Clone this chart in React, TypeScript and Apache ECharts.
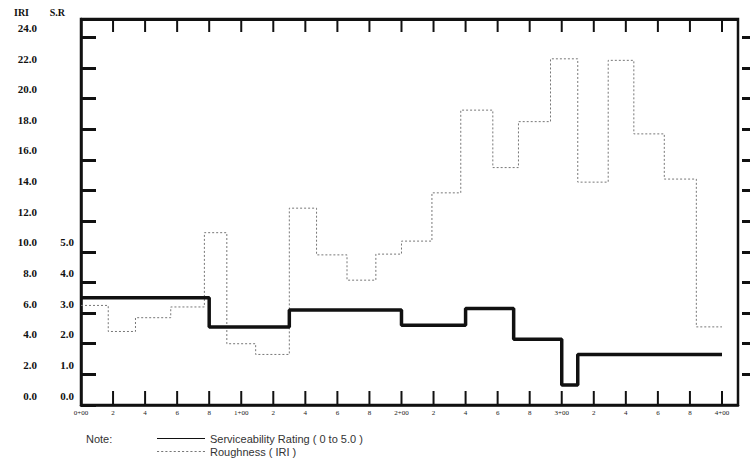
import React, { useEffect, useRef } from "react";
import * as echarts from "echarts";

// Station ticks (0+00 .. 4+00) and their printed labels
const stationTicks = [0, 20, 40, 60, 80, 100, 120, 140, 160, 180, 200, 220, 240, 260, 280, 300, 320, 340, 360, 380, 400];
const stationLabels = ["0+00", "2", "4", "6", "8", "1+00", "2", "4", "6", "8", "2+00", "2", "4", "6", "8", "3+00", "2", "4", "6", "8", "4+00"];

// Left axis ticks
const iriTicks = [0, 2, 4, 6, 8, 10, 12, 14, 16, 18, 20, 22, 24];
const srTicks = [0, 1, 2, 3, 4, 5];
const IRI_TOP = 25.2;

// Serviceability Rating (0 to 5.0): step breakpoints (stations) and values
const srBreaks = [0, 80, 130, 200, 240, 270, 300, 310, 400];
const srValues = [3.5, 2.55, 3.1, 2.6, 3.15, 2.15, 0.65, 1.65];

// Roughness (IRI): step breakpoints (stations) and values
const iriBreaks = [0, 17, 34, 56, 77, 91, 109, 130, 147, 166, 184, 200, 219, 237, 257, 273, 293, 310, 329, 345, 364, 384, 400];
const iriValues = [6.5, 4.8, 5.7, 6.4, 11.25, 4.0, 3.3, 12.85, 9.8, 8.15, 9.85, 10.7, 13.85, 19.25, 15.5, 18.5, 22.6, 14.55, 22.5, 17.7, 14.75, 5.1];

const SR_NAME = "Serviceability Rating ( 0 to 5.0 )";
const IRI_NAME = "Roughness ( IRI )";

// legend icons (shapes only)
const SOLID_ICON = "path://M0 0H48V1H0Z";
const DOTTED_ICON =
  "path://" + Array.from({ length: 12 }, (_, i) => `M${i * 4} 0h2v1h-2z`).join(" ");

function stepData(breaks: number[], values: number[]) {
  const pts = values.map((v, i) => [breaks[i], v]);
  pts.push([breaks[breaks.length - 1], values[values.length - 1]]);
  return pts;
}

const serif = "Liberation Serif";
const sans = "Liberation Sans";

export default function App() {
  const ref = useRef<HTMLDivElement>(null);
  useEffect(() => {
    if (!ref.current) return;
    const chart = echarts.init(ref.current, null, { renderer: "svg" });
    const labelMap: Record<number, string> = {};
    stationTicks.forEach((t, i) => (labelMap[t] = stationLabels[i]));
    chart.setOption({
      animation: false,
      backgroundColor: "#fff",
      title: {
        text: "Note:",
        left: 86,
        top: 433,
        padding: 0,
        textStyle: { fontFamily: sans, fontSize: 11, fontWeight: "normal", color: "#333" },
      },
      legend: {
        data: [
          { name: SR_NAME, icon: SOLID_ICON },
          { name: IRI_NAME, icon: DOTTED_ICON },
        ],
        orient: "vertical",
        left: 157,
        top: 433,
        padding: 0,
        itemWidth: 48,
        itemHeight: 2.5,
        itemGap: 2,
        textStyle: { fontFamily: sans, fontSize: 11, color: "#333" },
      },
      grid: {
        left: 81,
        top: 19,
        right: 15,
        bottom: 67,
        containLabel: false,
        show: true,
        borderColor: "#111",
        borderWidth: 2.5,
        backgroundColor: "transparent",
      },
      xAxis: [
        {
          type: "value",
          min: 0,
          max: 410,
          interval: 20,
          position: "bottom",
          splitLine: { show: false },
          axisLine: { lineStyle: { color: "#111", width: 2.5 } },
          axisTick: { show: false },
          axisLabel: {
            customValues: stationTicks,
            formatter: (v: number) => labelMap[v] ?? "",
            fontFamily: serif,
            fontSize: 7,
            color: "#222",
            margin: 4,
          },
        },
      ],
      yAxis: [
        {
          type: "value",
          min: 0,
          max: IRI_TOP,
          interval: 2,
          position: "left",
          name: "IRI",
          nameLocation: "end",
          nameGap: 2,
          nameTextStyle: { fontFamily: serif, fontSize: 10, fontWeight: "bold", color: "#111", align: "right", padding: [0, 52, 0, 0] },
          splitLine: { show: false },
          axisLine: { show: true, lineStyle: { color: "#111", width: 2.5 } },
          axisTick: { inside: true, length: 15, lineStyle: { color: "#111", width: 3 }, customValues: iriTicks },
          axisLabel: {
            customValues: iriTicks,
            formatter: (v: number) => v.toFixed(1),
            fontFamily: serif,
            fontSize: 11,
            fontWeight: "bold",
            color: "#111",
            margin: 44,
            verticalAlign: "bottom",
            padding: [0, 0, 4, 0],
          },
        },
        {
          type: "value",
          min: 0,
          max: 12.6,
          interval: 1,
          position: "left",
          name: "S.R",
          nameLocation: "end",
          nameGap: 2,
          nameTextStyle: { fontFamily: serif, fontSize: 10, fontWeight: "bold", color: "#111", align: "right", padding: [0, 16, 0, 0] },
          splitLine: { show: false },
          axisLine: { show: false },
          axisTick: { show: false },
          axisLabel: {
            customValues: srTicks,
            formatter: (v: number) => v.toFixed(1),
            fontFamily: serif,
            fontSize: 11,
            fontWeight: "bold",
            color: "#111",
            margin: 7,
            verticalAlign: "bottom",
            padding: [0, 0, 4, 0],
          },
        },
        {
          type: "value",
          min: 0,
          max: IRI_TOP,
          interval: 2,
          position: "right",
          offset: 12,
          splitLine: { show: false },
          axisLine: { show: false },
          axisTick: { show: true, inside: true, length: 8, lineStyle: { color: "#111", width: 3 }, customValues: iriTicks.slice(1) },
          axisLabel: { show: false },
        },
      ],
      series: [
        {
          name: SR_NAME,
          type: "line",
          step: "end",
          xAxisIndex: 0,
          yAxisIndex: 1,
          symbol: "none",
          data: stepData(srBreaks, srValues),
          lineStyle: { color: "#111", width: 3.5 },
          itemStyle: { color: "#111" },
          z: 3,
        },
        {
          name: IRI_NAME,
          type: "line",
          step: "end",
          xAxisIndex: 0,
          yAxisIndex: 0,
          symbol: "none",
          data: stepData(iriBreaks, iriValues),
          lineStyle: { color: "#777", width: 1, type: [2, 2] },
          itemStyle: { color: "#777" },
          z: 2,
          markLine: {
            silent: true,
            symbol: "none",
            label: { show: false },
            lineStyle: { color: "#111", width: 3, type: "solid" },
            data: [{ yAxis: IRI_TOP }],
          },
        },
        {
          name: "stationTicks",
          type: "custom",
          xAxisIndex: 0,
          yAxisIndex: 0,
          silent: true,
          clip: false,
          data: stationTicks.map((t) => [t, 0]),
          encode: { x: 0, y: 1 },
          renderItem: (_params: any, api: any) => {
            const x = api.value(0);
            const b = api.coord([x, 0]);
            const t = api.coord([x, IRI_TOP]);
            return {
              type: "group",
              children: [
                { type: "line", shape: { x1: b[0], y1: b[1], x2: b[0], y2: b[1] - 14 }, style: { stroke: "#111", lineWidth: 2 } },
                { type: "line", shape: { x1: t[0], y1: t[1], x2: t[0], y2: t[1] + 13 }, style: { stroke: "#111", lineWidth: 2 } },
              ],
            };
          },
          z: 4,
        },
      ],
    });
    return () => chart.dispose();
  }, []);
  return (
    <div
      ref={ref}
      style={{ position: "absolute", left: 0, top: 0, width: 753, height: 472, background: "#fff" }}
    />
  );
}
